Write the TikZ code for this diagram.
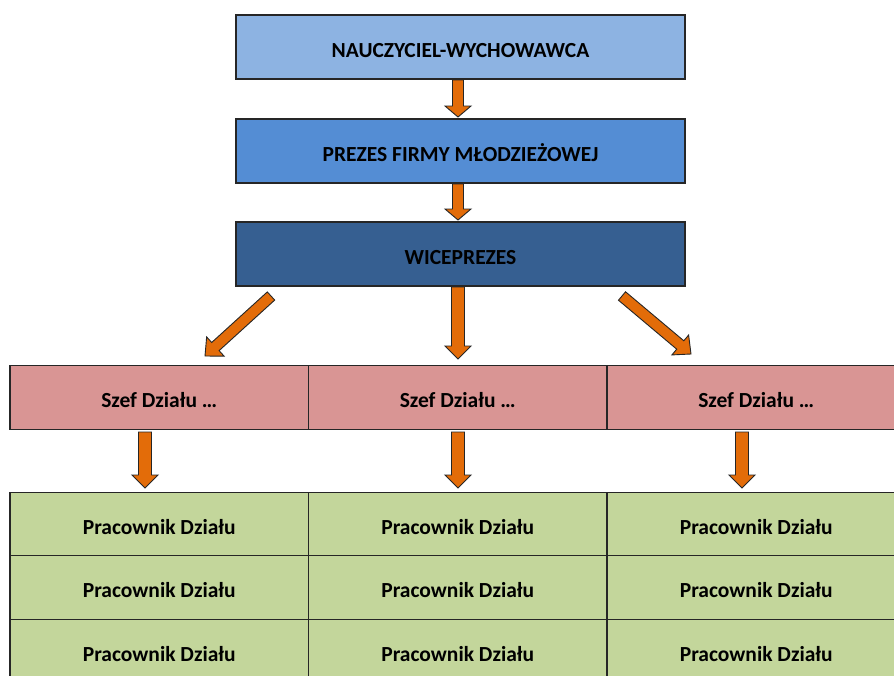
\documentclass[tikz,border=0pt]{standalone}
\usepackage{fontspec}
\setmainfont{Carlito}
\usetikzlibrary{calc}
\definecolor{edge}{HTML}{262626}
\definecolor{blueA}{HTML}{8DB3E2}
\definecolor{blueB}{HTML}{548DD4}
\definecolor{blueC}{HTML}{365F91}
\definecolor{pinkA}{HTML}{D99594}
\definecolor{greenA}{HTML}{C3D69B}
\definecolor{orangeA}{HTML}{E36C09}
\tikzset{
  box/.style={draw=edge, line width=1.1pt, minimum width=449pt, minimum height=64pt,
    inner sep=0pt, text height=20pt, text depth=0pt,
    font=\bfseries\fontsize{21.5}{24}\selectfont, text=black},
  cell/.style={draw=edge, line width=1.1pt, minimum width=298.5pt, minimum height=63.5pt,
    inner sep=0pt, text height=20pt, text depth=0pt,
    font=\bfseries\fontsize{21.5}{24}\selectfont, text=black},
  sw/.store in=\arrSW, hw/.store in=\arrHW, hl/.store in=\arrHL,
  sw=12pt, hw=26pt, hl=12pt,
  blockarrow/.style={draw=edge, fill=orangeA, line width=0.9pt, line join=miter,
    to path={
      let \p1=($(\tikztotarget)-(\tikztostart)$),
          \n1={veclen(\x1,\y1)},
          \n2={atan2(\y1,\x1)}
      in
      ($(\tikztostart)+(\n2+90:\arrSW/2)$)
      -- ($(\tikztostart)+(\n2+90:\arrSW/2)+(\n2:\n1-\arrHL)$)
      -- ($(\tikztostart)+(\n2+90:\arrHW/2)+(\n2:\n1-\arrHL)$)
      -- (\tikztotarget)
      -- ($(\tikztostart)+(\n2-90:\arrHW/2)+(\n2:\n1-\arrHL)$)
      -- ($(\tikztostart)+(\n2-90:\arrSW/2)+(\n2:\n1-\arrHL)$)
      -- ($(\tikztostart)+(\n2-90:\arrSW/2)$)
      -- cycle}}
}
\begin{document}
\begin{tikzpicture}[x=1pt,y=-1pt]
\clip (0,0) rectangle (894,675);
\fill[white] (0,0) rectangle (894,675);
% top boxes
\node[box, fill=blueA] (n1) at (460.5,47) {NAUCZYCIEL-WYCHOWAWCA};
\node[box, fill=blueB] (n2) at (460.5,151) {PREZES FIRMY MŁODZIEŻOWEJ};
\node[box, fill=blueC] (n3) at (460.5,254) {WICEPREZES};
% department heads
\node[cell, fill=pinkA] (s1) at (159.25,397.5) {Szef Działu …};
\node[cell, fill=pinkA] (s2) at (457.75,397.5) {Szef Działu …};
\node[cell, fill=pinkA] (s3) at (756.25,397.5) {Szef Działu …};
% workers
\node[cell, fill=greenA] (p11) at (159.25,524) {Pracownik Działu};
\node[cell, fill=greenA] (p21) at (457.75,524) {Pracownik Działu};
\node[cell, fill=greenA] (p31) at (756.25,524) {Pracownik Działu};
\node[cell, fill=greenA] (p12) at (159.25,587.5) {Pracownik Działu};
\node[cell, fill=greenA] (p22) at (457.75,587.5) {Pracownik Działu};
\node[cell, fill=greenA] (p32) at (756.25,587.5) {Pracownik Działu};
\node[cell, fill=greenA] (p13) at (159.25,651) {Pracownik Działu};
\node[cell, fill=greenA] (p23) at (457.75,651) {Pracownik Działu};
\node[cell, fill=greenA] (p33) at (756.25,651) {Pracownik Działu};
% arrow end points
\coordinate (a1s) at (458,80);  \coordinate (a1e) at (458,117);
\coordinate (a2s) at (458,184); \coordinate (a2e) at (458,220);
\coordinate (b1s) at (271,296); \coordinate (b1e) at (205,356);
\coordinate (b2s) at (458,287); \coordinate (b2e) at (458,359);
\coordinate (b3s) at (622,296); \coordinate (b3e) at (691,354);
\coordinate (c1s) at (145,432); \coordinate (c1e) at (145,488);
\coordinate (c2s) at (458,432); \coordinate (c2e) at (458,488);
\coordinate (c3s) at (742,432); \coordinate (c3e) at (742,488);
% arrows
\draw[blockarrow, sw=11pt, hw=26pt, hl=11pt] (a1s) to (a1e);
\draw[blockarrow, sw=11pt, hw=26pt, hl=11pt] (a2s) to (a2e);
\draw[blockarrow, sw=11pt, hw=26pt, hl=14pt] (b1s) to (b1e);
\draw[blockarrow, sw=13pt, hw=26pt, hl=13pt] (b2s) to (b2e);
\draw[blockarrow, sw=11pt, hw=26pt, hl=14pt] (b3s) to (b3e);
\draw[blockarrow, sw=13pt, hw=26pt, hl=13pt] (c1s) to (c1e);
\draw[blockarrow, sw=13pt, hw=26pt, hl=13pt] (c2s) to (c2e);
\draw[blockarrow, sw=13pt, hw=26pt, hl=13pt] (c3s) to (c3e);
\end{tikzpicture}
\end{document}
